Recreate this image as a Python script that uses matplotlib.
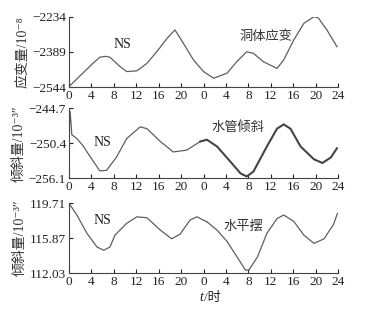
import matplotlib
matplotlib.use("Agg")
import matplotlib.pyplot as plt

plt.rcParams["font.family"] = ["Liberation Serif", "DejaVu Serif", "Noto Sans CJK SC"]

# hours since start (two days, 0-48)
strain_t = [0, 2, 4.3, 5.5, 6.5, 7.3, 9.1, 10.3, 12.1, 13.9, 15.9, 17.5, 18.9,
            20.4, 22.2, 24, 25.8, 28.2, 29.9, 31.7, 32.9, 34.7, 37.1, 38.3, 40.1,
            41.9, 43.7, 44.5, 46, 47.8]
strain_v = [-2541, -2493, -2438, -2412, -2408, -2412, -2453, -2475, -2472, -2439,
            -2380, -2329, -2292, -2351, -2424, -2475, -2504, -2482, -2432, -2388,
            -2395, -2432, -2461, -2424, -2336, -2263, -2234, -2240, -2292, -2366]

tube_t = [0, 0.2, 0.5, 1.4, 2.5, 3.8, 5.5, 6.7, 8.5, 10.3, 12.7, 13.9, 16.3, 18.6,
          21, 23.4, 24.6, 26.4, 28.8, 30.6, 31.7, 32.9, 35.3, 37.1, 38.3, 39.5,
          41.3, 43.7, 45.2, 46.7, 47.8]
tube_v = [-249.0, -245.2, -249.0, -249.6, -250.8, -252.6, -254.9, -254.8, -252.6,
          -249.6, -247.7, -248.0, -250.1, -251.8, -251.5, -250.1, -249.8, -250.9,
          -253.4, -255.3, -255.8, -255.0, -250.9, -248.0, -247.3, -248.0, -250.9,
          -253.0, -253.6, -252.7, -251.2]

pend_t = [0, 1.4, 3.2, 5.0, 6.2, 7.3, 8.2, 10.3, 12.1, 13.9, 16.3, 18.3, 19.8, 21.6,
          22.8, 24.6, 26.4, 28.2, 30.0, 31.5, 32.1, 33.6, 35.3, 37.1, 38.3, 40.1,
          41.9, 43.7, 45.5, 47.2, 47.9]
pend_v = [119.68, 118.4, 116.4, 114.9, 114.55, 114.9, 116.2, 117.5, 118.2, 118.1,
          116.75, 115.8, 116.3, 117.85, 118.2, 117.66, 116.75, 115.5, 113.8, 112.36,
          112.4, 113.8, 116.4, 118.0, 118.4, 117.7, 116.2, 115.3, 115.8, 117.4, 118.6]

xticks = [0, 4, 8, 12, 16, 20, 24, 28, 32, 36, 40, 44, 48]
xticklabels = ["0", "4", "8", "12", "16", "20", "0", "4", "8", "12", "16", "20", "24"]

panels = [
    (strain_t, strain_v, (-2544, -2234), [-2544, -2389, -2234], ["−2544", "−2389", "−2234"],
     "应变量/10⁻⁸", "洞体应变", (9.5, -2358), (35.2, -2319), 0.9),
    (tube_t, tube_v, (-256.1, -244.7), [-256.1, -250.4, -244.7], ["−256.1", "−250.4", "−244.7"],
     "倾斜量/10⁻³″", "水管倾斜", (5.9, -250.3), (30.2, -247.8), 1.5),
    (pend_t, pend_v, (112.03, 119.71), [112.03, 115.87, 119.71], ["112.03", "115.87", "119.71"],
     "倾斜量/10⁻³″", "水平摆", (5.9, 117.84), (31.1, 117.19), 0.9),
]

fig = plt.figure(figsize=(3.74, 3.09), dpi=100)
bottoms = [0.7175, 0.423, 0.1155]
heights = [0.2285, 0.226, 0.2275]

for (t, v, ylim, yt, ytl, ylab, name, ns_pos, name_pos, lw2), b, h in zip(panels, bottoms, heights):
    ax = fig.add_axes([0.1845, b, 0.7195, h])
    # first day thin; second day drawn with its own width (noisier record in 水管倾斜)
    first = [i for i, x in enumerate(t) if x <= 24.6]
    second = [i for i, x in enumerate(t) if x >= 23.4]
    ax.plot([t[i] for i in first], [v[i] for i in first], color="#5f5f5f", linewidth=0.9)
    ax.plot([t[i] for i in second], [v[i] for i in second],
            color="#454545" if lw2 > 1 else "#5f5f5f", linewidth=lw2)
    ax.set_xlim(0, 48)
    ax.set_ylim(*ylim)
    ax.set_xticks(xticks)
    ax.set_xticklabels(xticklabels)
    ax.set_yticks(yt)
    ax.set_yticklabels(ytl)
    ax.tick_params(direction="in", length=3, width=0.8, labelsize=9.5, pad=2,
                   colors="#222222")
    ax.spines["top"].set_visible(False)
    ax.spines["right"].set_visible(False)
    for s in ("left", "bottom"):
        ax.spines[s].set_color("#444444")
        ax.spines[s].set_linewidth(0.8)
    ax.set_ylabel(ylab, fontsize=10, color="#333333", labelpad=2)
    ax.text(*ns_pos, "NS", fontsize=10, ha="center", va="center", color="#222222")
    ax.text(*name_pos, name, fontsize=9.5, ha="center", va="center", color="#333333",
            family=["Noto Sans CJK SC", "DejaVu Sans"])

# x label: italic t followed by "/时"
fig.text(0.5445, 0.036, "t", fontsize=10, style="italic", ha="right", va="center",
         color="#222222")
fig.text(0.5445, 0.036, "/时", fontsize=9.5, ha="left", va="center", color="#222222")

fig.savefig("out.png", dpi=100)
